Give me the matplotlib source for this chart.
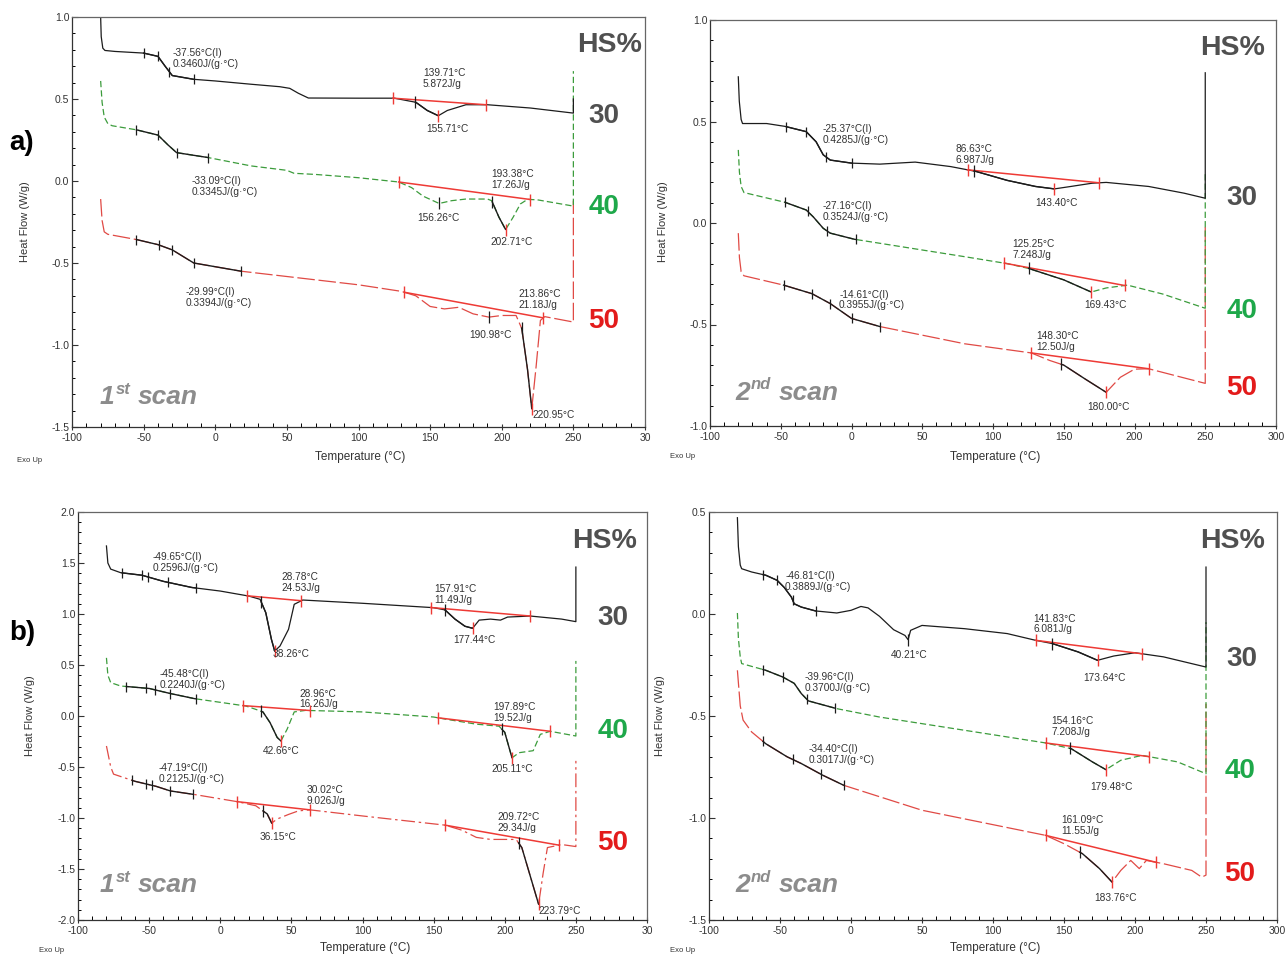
import numpy as np
import matplotlib.pyplot as plt
from matplotlib.ticker import MultipleLocator, FormatStrFormatter

plt.rcParams['font.family'] = ['Liberation Sans', 'DejaVu Sans']
plt.rcParams['axes.unicode_minus'] = False

W, H = 1286, 956

# ---------------- panel a), 1st scan ----------------
a1_t30 = [-80, -79.6, -78.5, -77, -70, -50, -40, -35, -30, -15, 0, 25, 45, 52, 58, 65, 100, 125, 140, 148, 155.7, 162, 175, 190, 220, 250, 250]
a1_h30 = [1.0, 0.88, 0.81, 0.796, 0.79, 0.78, 0.76, 0.70, 0.643, 0.62, 0.61, 0.59, 0.575, 0.565, 0.535, 0.506, 0.505, 0.505, 0.48, 0.43, 0.398, 0.43, 0.465, 0.465, 0.445, 0.414, 0.50]
a1_t40 = [-80, -79, -77.5, -75, -72, -55, -40, -33, -27, -5, 25, 50, 55, 70, 100, 128, 137, 145, 156.3, 165, 175, 190, 193, 198, 202.7, 208, 213, 218, 225, 250, 250]
a1_h40 = [0.61, 0.48, 0.39, 0.35, 0.337, 0.312, 0.28, 0.22, 0.173, 0.143, 0.092, 0.065, 0.047, 0.04, 0.02, -0.006, -0.04, -0.092, -0.137, -0.12, -0.11, -0.11, -0.12, -0.22, -0.296, -0.22, -0.14, -0.112, -0.115, -0.153, 0.67]
a1_t50 = [-80, -79, -77.5, -75, -55, -40, -30, -15, 18, 100, 130, 140, 150, 160, 170, 180, 191, 200, 210, 214, 218, 220.95, 224, 227, 230, 250, 250]
a1_h50 = [-0.11, -0.24, -0.31, -0.325, -0.357, -0.388, -0.42, -0.50, -0.55, -0.633, -0.673, -0.70, -0.765, -0.78, -0.77, -0.81, -0.83, -0.82, -0.82, -0.90, -1.15, -1.388, -1.13, -0.85, -0.827, -0.86, -0.12]

# ---------------- panel a), 2nd scan ----------------
a2_t30 = [-80, -79.3, -78, -77, -60, -47, -32, -25, -20, -15, 0, 20, 45, 70, 88, 110, 130, 143.4, 155, 170, 180, 210, 235, 250, 250]
a2_h30 = [0.72, 0.60, 0.51, 0.49, 0.49, 0.476, 0.45, 0.40, 0.336, 0.31, 0.295, 0.29, 0.30, 0.278, 0.254, 0.21, 0.18, 0.168, 0.18, 0.196, 0.20, 0.18, 0.147, 0.122, 0.74]
a2_t40 = [-80, -79.2, -78, -76, -47, -32, -27, -20, -15, 2, 50, 80, 110, 125.25, 150, 169.4, 180, 195, 220, 250, 250]
a2_h40 = [0.36, 0.25, 0.18, 0.15, 0.102, 0.064, 0.03, -0.026, -0.05, -0.08, -0.133, -0.166, -0.20, -0.224, -0.28, -0.34, -0.32, -0.306, -0.35, -0.42, 0.25]
a2_t50 = [-80, -79.2, -78, -76, -48, -28, -15, 0, 20, 80, 127, 140, 150, 165, 180, 190, 200, 210, 250, 250]
a2_h50 = [-0.05, -0.17, -0.24, -0.26, -0.306, -0.348, -0.397, -0.47, -0.51, -0.595, -0.64, -0.677, -0.70, -0.768, -0.834, -0.76, -0.72, -0.718, -0.79, -0.02]

# ---------------- panel b), 1st scan ----------------
b1_t30 = [-80, -79, -77, -70, -55, -40, -20, 0, 20, 28, 32, 36, 38.26, 42, 48, 52, 58, 100, 150, 158, 165, 172, 177.4, 182, 190, 197, 202, 218, 240, 250, 250]
b1_h30 = [1.667, 1.50, 1.44, 1.405, 1.38, 1.32, 1.26, 1.225, 1.176, 1.144, 1.013, 0.75, 0.637, 0.686, 0.85, 1.095, 1.137, 1.105, 1.062, 1.04, 0.95, 0.88, 0.86, 0.94, 0.95, 0.94, 0.97, 0.98, 0.95, 0.925, 1.46]
b1_t40 = [-80, -79, -77, -70, -50, -35, -18, 10, 18, 25, 30, 35, 40, 42.66, 47, 52, 60, 100, 150, 158, 180, 196, 200, 205.1, 210, 220, 225, 232, 250, 250]
b1_h40 = [0.57, 0.40, 0.327, 0.294, 0.27, 0.22, 0.17, 0.114, 0.098, 0.065, 0.04, -0.065, -0.21, -0.245, -0.13, 0.04, 0.055, 0.04, -0.01, -0.03, -0.08, -0.10, -0.16, -0.41, -0.36, -0.34, -0.18, -0.15, -0.196, 0.54]
b1_t50 = [-80, -77, -75, -60, -45, -35, -18, 12, 25, 33, 36.15, 40, 48, 55, 63, 100, 158, 170, 180, 190, 208, 212, 223.8, 227, 230, 240, 250, 250]
b1_h50 = [-0.294, -0.50, -0.57, -0.64, -0.69, -0.735, -0.77, -0.84, -0.88, -0.96, -1.05, -1.01, -0.965, -0.93, -0.92, -0.98, -1.07, -1.12, -1.19, -1.21, -1.21, -1.29, -1.846, -1.54, -1.29, -1.26, -1.28, -0.44]

# ---------------- panel b), 2nd scan ----------------
b2_t30 = [-80, -79.3, -78, -77, -70, -60, -52, -47, -42, -40, -35, -25, -10, 0, 7, 12, 20, 30, 38, 40.21, 42, 50, 80, 110, 130, 141.8, 160, 173.6, 185, 200, 220, 250, 250]
b2_h30 = [0.472, 0.33, 0.24, 0.222, 0.206, 0.19, 0.165, 0.13, 0.083, 0.05, 0.034, 0.015, 0.005, 0.018, 0.037, 0.03, -0.011, -0.077, -0.105, -0.126, -0.08, -0.056, -0.072, -0.096, -0.129, -0.145, -0.186, -0.227, -0.206, -0.19, -0.21, -0.26, 0.23]
b2_t40 = [-80, -79.3, -78, -77, -60, -48, -40, -35, -30, -10, 20, 80, 137, 155, 170, 179.5, 190, 205, 230, 250, 250]
b2_h40 = [0.005, -0.12, -0.21, -0.243, -0.276, -0.309, -0.34, -0.39, -0.426, -0.464, -0.505, -0.57, -0.632, -0.66, -0.725, -0.763, -0.717, -0.693, -0.725, -0.783, -0.04]
b2_t50 = [-80, -78, -76, -70, -60, -45, -35, -20, -5, 50, 108, 137, 150, 163, 175, 183.8, 190, 197, 203, 208, 220, 240, 247, 250, 250]
b2_h50 = [-0.276, -0.45, -0.52, -0.578, -0.636, -0.70, -0.733, -0.79, -0.84, -0.962, -1.044, -1.085, -1.126, -1.175, -1.248, -1.314, -1.257, -1.208, -1.248, -1.208, -1.224, -1.257, -1.29, -1.28, -0.44]

# glass transition analysis ticks (°C)
a1_tg = [[-50, -40, -32, -15], [-55, -40, -27, -5], [-55, -39, -30, -15, 18]]
a2_tg = [[-46, -32, -18, 0], [-47, -31, -17, 3], [-48, -28, -15, 0, 20]]
b1_tg = [[-69, -55, -51, -37, -17], [-66, -52, -46, -35, -17], [-62, -52, -48, -35, -19]]
b2_tg = [[-62, -52, -41, -25], [-62, -48, -31, -11], [-62, -41, -21, -5]]

# integration baselines (start, end)
a1_base = [[(124, 189)], [(128, 220)], [(132, 229)]]
a2_base = [[(82, 175)], [(108, 193)], [(127, 210)]]
b1_base = [[(19, 57), (148, 218)], [(16, 63), (153, 232)], [(12, 63), (158, 238)]]
b2_base = [[(130, 205)], [(137, 210)], [(137, 215)]]

# onset and peak temperatures
a1_onset = [[139.71], [193.38], [213.86]]
a1_peak = [[155.71], [202.71], [220.95]]
a1_minor = [[], [156.26], [190.98]]
a2_onset = [[86.63], [125.25], [148.30]]
a2_peak = [[143.40], [169.43], [180.00]]
a2_minor = [[], [], []]
b1_onset = [[28.78, 157.91], [28.96, 197.89], [30.02, 209.72]]
b1_peak = [[38.26, 177.44], [42.66, 205.11], [36.15, 223.79]]
b1_minor = [[], [], []]
b2_onset = [[141.83], [154.16], [161.09]]
b2_peak = [[173.64], [179.48], [183.76]]
b2_minor = [[40.21], [], []]

# annotation texts
a1_notes = ['-37.56°C(I)\n0.3460J/(g·°C)', '139.71°C\n5.872J/g', '155.71°C',
            '-33.09°C(I)\n0.3345J/(g·°C)', '193.38°C\n17.26J/g', '156.26°C', '202.71°C',
            '-29.99°C(I)\n0.3394J/(g·°C)', '213.86°C\n21.18J/g', '190.98°C', '220.95°C']
a2_notes = ['-25.37°C(I)\n0.4285J/(g·°C)', '86.63°C\n6.987J/g', '143.40°C',
            '-27.16°C(I)\n0.3524J/(g·°C)', '125.25°C\n7.248J/g', '169.43°C',
            '-14.61°C(I)\n0.3955J/(g·°C)', '148.30°C\n12.50J/g', '180.00°C']
b1_notes = ['-49.65°C(I)\n0.2596J/(g·°C)', '28.78°C\n24.53J/g', '38.26°C', '157.91°C\n11.49J/g', '177.44°C',
            '-45.48°C(I)\n0.2240J/(g·°C)', '28.96°C\n16.26J/g', '42.66°C', '197.89°C\n19.52J/g', '205.11°C',
            '-47.19°C(I)\n0.2125J/(g·°C)', '30.02°C\n9.026J/g', '36.15°C', '209.72°C\n29.34J/g', '223.79°C']
b2_notes = ['-46.81°C(I)\n0.3889J/(g·°C)', '40.21°C', '141.83°C\n6.081J/g', '173.64°C',
            '-39.96°C(I)\n0.3700J/(g·°C)', '154.16°C\n7.208J/g', '179.48°C',
            '-34.40°C(I)\n0.3017J/(g·°C)', '161.09°C\n11.55J/g', '183.76°C']

# layout: top-left anchor of each annotation, data coords
a1_note_pos = [(-29.6, 0.81), (145, 0.688), (147, 0.347), (-16.6, 0.031), (193, 0.071), (141.3, -0.198),
               (192, -0.341), (-20.9, -0.647), (211.4, -0.659), (177.5, -0.908), (221.6, -1.394)]
a2_note_pos = [(-20.3, 0.489), (73.6, 0.39), (130, 0.122), (-20.3, 0.109), (113.7, -0.081), (164.5, -0.38),
               (-8.8, -0.328), (130.9, -0.534), (166.8, -0.883)]
b1_note_pos = [(-47.7, 1.608), (42.9, 1.412), (37.1, 0.66), (150.4, 1.29), (163.8, 0.79),
               (-42.5, 0.458), (55.4, 0.268), (30.2, -0.294), (192, 0.137), (190.5, -0.474),
               (-43.3, -0.458), (60.4, -0.68), (27.3, -1.137), (194.9, -0.941), (224, -1.863)]
b2_note_pos = [(-46.4, 0.209), (28, -0.178), (128.2, 0.002), (163.5, -0.29),
               (-32.7, -0.284), (141.1, -0.502), (168.3, -0.824),
               (-29.8, -0.636), (148.3, -0.987), (171.2, -1.368)]

BLACK = '#1c1c1c'
GREEN = '#3c9c3c'
RED = '#e04a45'
BASE_RED = '#ee3a35'

style30 = dict(color=BLACK, ls='-')
style40 = dict(color=GREEN, dashes=(5, 2.5))
style50 = dict(color=RED, dashes=(14, 3))
style50_dd = dict(color=RED, dashes=(11, 3, 2, 3))


def seg(t, h, t0, t1):
    t = np.asarray(t, float)
    h = np.asarray(h, float)
    inner = (t > t0) & (t < t1)
    ts = np.concatenate([[t0], t[inner], [t1]])
    hs = np.concatenate([[np.interp(t0, t, h)], h[inner], [np.interp(t1, t, h)]])
    return ts, hs


def draw_curve(ax, t, h, style, tg, bases, onsets, peaks, minor):
    ax.plot(t, h, lw=0.9, **style)
    ts, hs = seg(t, h, tg[0], tg[-1])
    ax.plot(ts, hs, color=BLACK, lw=1.0)
    ax.plot(tg, np.interp(tg, t, h), ls='none', marker='|', ms=7, mew=0.9, color=BLACK)
    for t0, t1 in bases:
        ax.plot([t0, t1], np.interp([t0, t1], t, h), color=BASE_RED, lw=1.1,
                marker='|', ms=9, mew=1.0)
    for on, pk in zip(onsets, peaks):
        ts, hs = seg(t, h, on, pk)
        ax.plot(ts, hs, color=BLACK, lw=1.0)
        ax.plot([on], [np.interp(on, t, h)], marker='|', ms=8, mew=0.9, color=BLACK)
        ax.plot([pk], [np.interp(pk, t, h)], marker='|', ms=8, mew=1.0, color=BASE_RED)
    for pk in minor:
        ax.plot([pk], [np.interp(pk, t, h)], marker='|', ms=8, mew=0.9, color=BLACK)


fig = plt.figure(figsize=(W / 100, H / 100), dpi=100)


def px_axes(l, t, r, b):
    return fig.add_axes([l / W, 1 - b / H, (r - l) / W, (b - t) / H])


def ftext(x, y, s, **kw):
    return fig.text(x / W, 1 - y / H, s, **kw)


def setup_axes(ax, ylim, last_label):
    ax.set_xlim(-100, 300)
    ax.set_ylim(*ylim)
    ax.xaxis.set_major_locator(MultipleLocator(50))
    ax.xaxis.set_minor_locator(MultipleLocator(10))
    ax.yaxis.set_major_locator(MultipleLocator(0.5))
    ax.yaxis.set_minor_locator(MultipleLocator(0.1))
    ax.yaxis.set_major_formatter(FormatStrFormatter('%.1f'))
    ax.set_xticks(np.arange(-100, 301, 50))
    ax.set_xticklabels([str(v) for v in range(-100, 300, 50)] + [last_label])
    ax.tick_params(axis='x', which='major', direction='inout', length=5, width=0.8, labelsize=7.5, pad=1.5, colors='#333333')
    ax.tick_params(axis='x', which='minor', direction='in', length=3, width=0.7)
    ax.tick_params(axis='y', which='major', direction='in', length=4, width=0.8, labelsize=7.5, pad=2, colors='#333333')
    ax.tick_params(axis='y', which='minor', direction='in', length=2.5, width=0.7)
    ax.tick_params(top=False, right=False, which='both')
    for side in ['left', 'bottom']:
        ax.spines[side].set_color('#333333')
        ax.spines[side].set_linewidth(0.9)
    for side in ['top', 'right']:
        ax.spines[side].set_color('#666666')
        ax.spines[side].set_linewidth(0.9)


def annotate(ax, notes, pos):
    for s, (x, y) in zip(notes, pos):
        ax.text(x, y, s, fontsize=7.3, color='#333333', ha='left', va='top', linespacing=1.1)


panels = [
    dict(box=(72, 17, 645, 427), ylim=(-1.5, 1.0), last='30',
         curves=[(a1_t30, a1_h30, style30), (a1_t40, a1_h40, style40), (a1_t50, a1_h50, style50)],
         tg=a1_tg, base=a1_base, onset=a1_onset, peak=a1_peak, minor=a1_minor,
         notes=a1_notes, pos=a1_note_pos),
    dict(box=(710, 20, 1276, 426), ylim=(-1.0, 1.0), last='300',
         curves=[(a2_t30, a2_h30, style30), (a2_t40, a2_h40, style40), (a2_t50, a2_h50, style50)],
         tg=a2_tg, base=a2_base, onset=a2_onset, peak=a2_peak, minor=a2_minor,
         notes=a2_notes, pos=a2_note_pos),
    dict(box=(78, 512, 647, 920), ylim=(-2.0, 2.0), last='30',
         curves=[(b1_t30, b1_h30, style30), (b1_t40, b1_h40, style40), (b1_t50, b1_h50, style50_dd)],
         tg=b1_tg, base=b1_base, onset=b1_onset, peak=b1_peak, minor=b1_minor,
         notes=b1_notes, pos=b1_note_pos),
    dict(box=(709, 512, 1277, 920), ylim=(-1.5, 0.5), last='300',
         curves=[(b2_t30, b2_h30, style30), (b2_t40, b2_h40, style40), (b2_t50, b2_h50, style50)],
         tg=b2_tg, base=b2_base, onset=b2_onset, peak=b2_peak, minor=b2_minor,
         notes=b2_notes, pos=b2_note_pos),
]

for p in panels:
    ax = px_axes(*p['box'])
    setup_axes(ax, p['ylim'], p['last'])
    # draw green and red first, black on top
    for i in [2, 1, 0]:
        t, h, st = p['curves'][i]
        draw_curve(ax, t, h, st, p['tg'][i], p['base'][i], p['onset'][i], p['peak'][i], p['minor'][i])
    annotate(ax, p['notes'], p['pos'])

# axis titles
for x, y in [(25, 222), (663, 222), (30, 716), (660, 716)]:
    ftext(x, y, 'Heat Flow (W/g)', rotation=90, ha='center', va='center', fontsize=8, color='#333333')
for x, y in [(360, 457), (995, 457), (365, 948), (995, 948)]:
    ftext(x, y, 'Temperature (°C)', ha='center', va='center', fontsize=8.5, color='#333333')
for x, y in [(30, 460), (683, 456), (52, 950), (683, 950)]:
    ftext(x, y, 'Exo Up', ha='center', va='center', fontsize=5.5, color='#333333')

# big HS% labels
GRAY = '#505050'
HS_GREEN = '#1ea84a'
HS_RED = '#e31b1b'
for x, y in [(610, 45), (1233, 48), (605, 541), (1233, 541)]:
    ftext(x, y, 'HS%', ha='center', va='center', fontsize=20.5, fontweight='bold', color=GRAY)
hs_rows = [((604, 116), (604, 207), (604, 321)),
           ((1242, 198), (1242, 311), (1242, 388)),
           ((613, 618), (613, 731), (613, 843)),
           ((1242, 659), (1240, 771), (1240, 874))]
for row in hs_rows:
    for (x, y), s, c in zip(row, ['30', '40', '50'], [GRAY, HS_GREEN, HS_RED]):
        ftext(x, y, s, ha='center', va='center', fontsize=20, fontweight='bold', color=c)

ftext(22, 143, 'a)', ha='center', va='center', fontsize=20, fontweight='bold', color='black')
ftext(22, 633, 'b)', ha='center', va='center', fontsize=20, fontweight='bold', color='black')

# scan labels
SCAN = '#8c8c8c'
for x0, y0, num, sup in [(100, 397, '1', 'st'), (735, 393, '2', 'nd'), (100, 885, '1', 'st'), (735, 885, '2', 'nd')]:
    ftext(x0, y0, num, ha='left', va='center', fontsize=19, fontweight='bold', style='italic', color=SCAN)
    ftext(x0 + 16, y0 - 8, sup, ha='left', va='center', fontsize=12, fontweight='bold', style='italic', color=SCAN)
    ftext(x0 + 38 + (6 if sup == 'nd' else 0), y0, 'scan', ha='left', va='center', fontsize=19,
          fontweight='bold', style='italic', color=SCAN)

fig.savefig('out.png', dpi=100)
